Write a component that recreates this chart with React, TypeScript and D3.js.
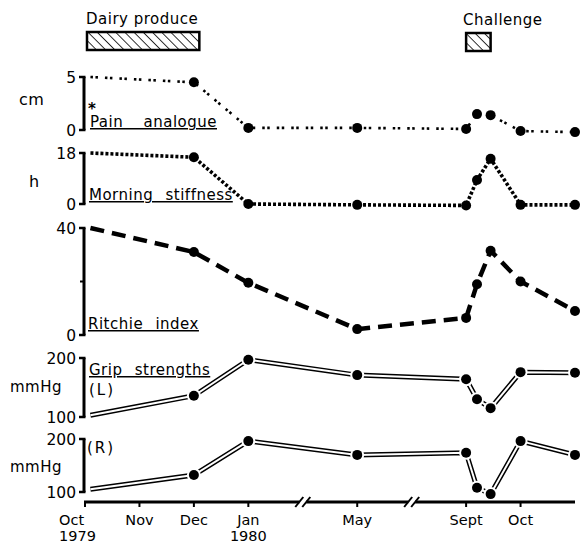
import React from "react";
import * as d3 from "d3";

// time in months from Oct 1979 (axis is broken between Jan–May and May–Sept)
const months = [0.1, 2, 3, 5, 7, 7.2, 7.45, 8, 9];
const painAnalogue = [5, 4.5, 0.2, 0.2, 0.1, 1.5, 1.4, -0.1, -0.2];
const morningStiffness = [18, 16.5, 0, -0.3, -0.5, 8.5, 16, -0.3, -0.3];
const ritchieIndex = [40, 31, 19.5, 2.2, 6.4, 19, 31.5, 20, 9];
const gripLeft = [103, 136, 197, 171, 164, 130, 115, 176, 175];
const gripRight = [105, 132, 196, 170, 174, 108, 96, 196, 170];

const tickMonths = [0, 1, 2, 3, 5, 7, 8];
const tickLabels = [["Oct", "1979"], ["Nov"], ["Dec"], ["Jan", "1980"], ["May"], ["Sept"], ["Oct"]];
const axisBreaks = [4, 6];
const dairyPeriod = [0, 2.1];
const challengePeriod = [7, 7.45];

const W = 584;
const H = 545;
const FONT = "DejaVu Sans, sans-serif";

const x = d3.scaleLinear().domain([0, 9]).range([85, 575]);

type Panel = {
  key: string;
  values: number[];
  domain: [number, number];
  range: [number, number];
  ticks: number[];
  minor?: number[];
  style: "pain" | "stiff" | "ritchie" | "grip";
};

const panels: Panel[] = [
  { key: "pain", values: painAnalogue, domain: [0, 5], range: [130, 77], ticks: [0, 5], style: "pain" },
  { key: "stiff", values: morningStiffness, domain: [0, 18], range: [204, 153], ticks: [0, 18], style: "stiff" },
  { key: "ritchie", values: ritchieIndex, domain: [0, 40], range: [335, 228], ticks: [0, 40], minor: [20], style: "ritchie" },
  { key: "gripL", values: gripLeft, domain: [100, 200], range: [417, 358], ticks: [100, 200], style: "grip" },
  { key: "gripR", values: gripRight, domain: [100, 200], range: [492, 439], ticks: [100, 200], style: "grip" },
];

const AXIS_X = 84;
const AXIS_Y = 502;

function PanelView({ p }: { p: Panel }) {
  const y = d3.scaleLinear().domain(p.domain).range(p.range);
  const pts: [number, number][] = months.map((m, i) => [x(m), y(p.values[i])]);
  const line = d3.line()(pts) || "";
  const dots = pts.slice(1);
  let path: React.ReactNode;
  if (p.style === "pain") {
    path = <path d={line} fill="none" stroke="#000" strokeWidth={2.6} strokeDasharray="2.5 2.5 2.5 7" />;
  } else if (p.style === "stiff") {
    path = <path d={line} fill="none" stroke="#000" strokeWidth={3.6} strokeDasharray="3 2" />;
  } else if (p.style === "ritchie") {
    path = <path d={line} fill="none" stroke="#000" strokeWidth={4.5} strokeDasharray="14 8" />;
  } else {
    path = (
      <g>
        <path d={line} fill="none" stroke="#000" strokeWidth={5} />
        <path d={line} fill="none" stroke="#fff" strokeWidth={2} />
      </g>
    );
  }
  const [yb, yt] = p.range;
  return (
    <g>
      <line x1={AXIS_X} x2={AXIS_X} y1={yt} y2={yb} stroke="#000" strokeWidth={3} />
      {p.ticks.map((t) => (
        <line key={t} x1={AXIS_X - 5} x2={AXIS_X + 1.5} y1={y(t)} y2={y(t)} stroke="#000" strokeWidth={2.5} />
      ))}
      {(p.minor || []).map((t) => (
        <line key={"m" + t} x1={AXIS_X - 4} x2={AXIS_X} y1={y(t)} y2={y(t)} stroke="#000" strokeWidth={2} />
      ))}
      {p.ticks.map((t) => (
        <text key={"l" + t} x={AXIS_X - 8} y={y(t)} dy="0.36em" textAnchor="end" fontFamily={FONT} fontSize={15.5}>
          {t}
        </text>
      ))}
      {path}
      {p.style === "grip" &&
        dots.map(([cx, cy], i) => <circle key={"w" + i} cx={cx} cy={cy} r={7} fill="#fff" />)}
      {dots.map(([cx, cy], i) => (
        <circle key={i} cx={cx} cy={cy} r={5} fill="#000" />
      ))}
    </g>
  );
}

export default function App() {
  const gap = 3.5;
  const b1 = x(axisBreaks[0]);
  const b2 = x(axisBreaks[1]);
  const axisSegs = [[x(0) - 1, b1 - gap], [b1 + gap, b2 - gap], [b2 + gap, x(9)]];
  const textStyle = { fontFamily: FONT, fontSize: 15, letterSpacing: 0.5 } as const;
  const labelStyle = { ...textStyle, wordSpacing: 7, textDecoration: "underline" } as const;

  return (
    <svg width={W} height={H} style={{ position: "absolute", left: 0, top: 0, background: "#fff" }}>
      <defs>
        <pattern id="hatch" patternUnits="userSpaceOnUse" width={6.5} height={6.5} patternTransform="rotate(-45)">
          <line x1={0} y1={0} x2={0} y2={6.5} stroke="#000" strokeWidth={1.6} />
        </pattern>
      </defs>
      <rect width={W} height={H} fill="#fff" />

      <text x={x(dairyPeriod[0]) + 1} y={24} {...textStyle}>Dairy produce</text>
      <rect x={x(dairyPeriod[0]) + 2} y={32} width={x(dairyPeriod[1]) - x(dairyPeriod[0]) - 2} height={18} fill="url(#hatch)" stroke="#000" strokeWidth={2.5} />
      <text x={x(challengePeriod[0]) - 3} y={25} {...textStyle}>Challenge</text>
      <rect x={x(challengePeriod[0])} y={33} width={x(challengePeriod[1]) - x(challengePeriod[0])} height={18} fill="url(#hatch)" stroke="#000" strokeWidth={2.5} />

      <text x={19} y={105} {...textStyle} fontSize={16}>cm</text>
      <text x={29} y={187} {...textStyle} fontSize={16}>h</text>
      <text x={10} y={392} {...textStyle}>mmHg</text>
      <text x={10} y={472} {...textStyle}>mmHg</text>

      {panels.map((p) => (
        <PanelView key={p.key} p={p} />
      ))}

      <text x={88} y={114} fontFamily={FONT} fontSize={15} fontWeight="bold">*</text>
      <text x={90} y={127} {...labelStyle} wordSpacing={15}>Pain analogue</text>
      <text x={89} y={200} {...labelStyle}>Morning stiffness</text>
      <text x={88} y={329} {...labelStyle}>Ritchie index</text>
      <text x={89} y={375} {...labelStyle}>Grip strengths</text>
      <text x={89} y={395} {...textStyle} letterSpacing={2}>(L)</text>
      <text x={87} y={453} {...textStyle} letterSpacing={2}>(R)</text>

      {axisSegs.map(([a, b], i) => (
        <line key={i} x1={a} x2={b} y1={AXIS_Y} y2={AXIS_Y} stroke="#000" strokeWidth={3} />
      ))}
      {axisBreaks.map((m) => (
        <g key={m}>
          <line x1={x(m) - gap - 4} y1={AXIS_Y + 5} x2={x(m) - gap + 4} y2={AXIS_Y - 5} stroke="#000" strokeWidth={2} />
          <line x1={x(m) + gap - 4} y1={AXIS_Y + 5} x2={x(m) + gap + 4} y2={AXIS_Y - 5} stroke="#000" strokeWidth={2} />
        </g>
      ))}
      {tickMonths.map((m, i) => (
        <g key={m}>
          <line x1={x(m)} x2={x(m)} y1={AXIS_Y} y2={AXIS_Y + 5} stroke="#000" strokeWidth={2} />
          {tickLabels[i].map((s, j) => (
            <text
              key={j}
              x={i === 0 ? x(m) - 26 : x(m)}
              y={525 + j * 16}
              textAnchor={i === 0 ? "start" : "middle"}
              fontFamily={FONT}
              fontSize={14.5}
            >
              {s}
            </text>
          ))}
        </g>
      ))}
    </svg>
  );
}
